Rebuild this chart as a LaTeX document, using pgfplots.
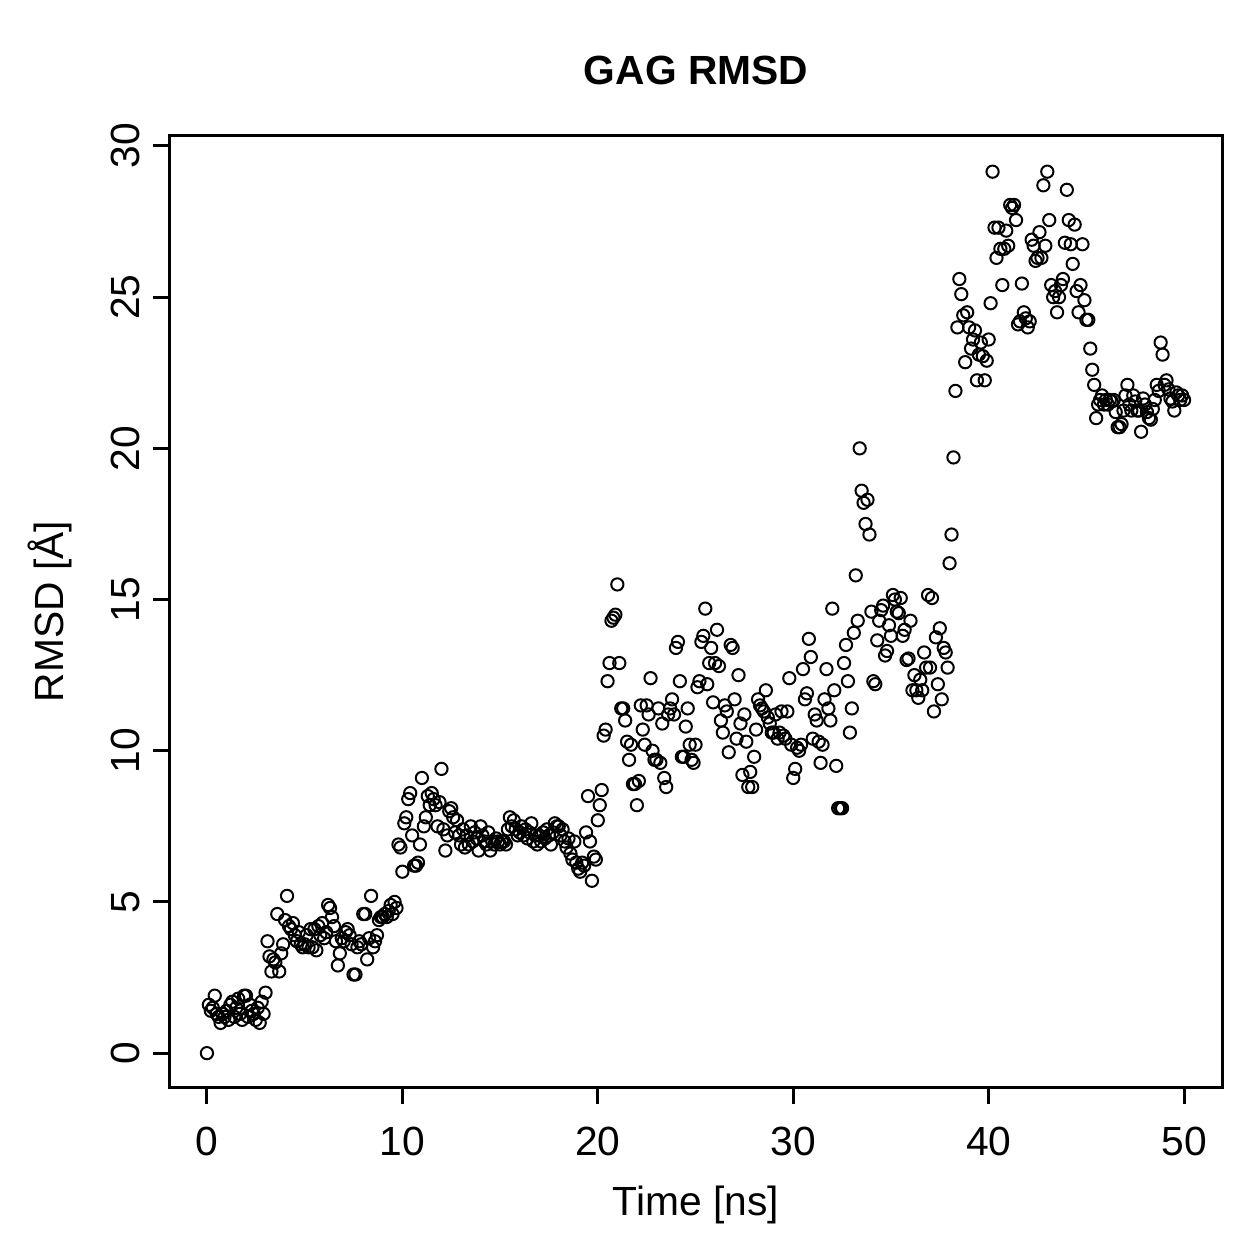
\documentclass[border=0pt]{standalone}
\usepackage{fontspec}
\setmainfont{Liberation Sans}
\usepackage{pgfplots}
\pgfplotsset{compat=1.18}
\newcommand{\fs}{\fontsize{16.3}{19}\selectfont}
\begin{document}
\begin{tikzpicture}
\begin{axis}[
  scale only axis,
  width=420.8pt, height=380.4pt,
  xmin=-1.89, xmax=51.94, ymin=-1.12, ymax=30.33,
  xtick={0,10,20,30,40,50}, ytick={0,5,10,15,20,25,30},
  xtick pos=bottom, ytick pos=left,
  tick align=outside, major tick length=6.8pt,
  axis line style={line width=1.2pt},
  every tick/.style={line width=1.2pt, black},
  /pgf/number format/assume math mode=true,
  xticklabel style={font=\fs, anchor=base, yshift=-20.4pt},
  yticklabel style={font=\fs, rotate=90, anchor=base, yshift=5.2pt},
  xlabel={Time [ns]}, ylabel={RMSD [Å]},
  xlabel style={font=\fs, at={(axis description cs:0.5,-0.1346)}, anchor=base},
  ylabel style={font=\fs, at={(axis description cs:-0.1008,0.5)}, anchor=base, rotate=0},
  title={GAG RMSD},
  title style={font=\fs\bfseries, at={(axis description cs:0.5,1.0389)}, anchor=base},
  clip=false,
]
\addplot[only marks, mark=o, mark size=2.45pt, mark options={line width=0.8pt, black}] coordinates {
(0,0)(0.1,1.6)(0.2,1.4)(0.3,1.5)(0.4,1.9)(0.5,1.3)(0.6,1.2)(0.7,1.0)(0.8,1.3)(0.9,1.2)
(1,1.4)(1.1,1.1)(1.2,1.6)(1.3,1.7)(1.4,1.2)(1.5,1.5)(1.6,1.8)(1.7,1.3)(1.8,1.1)(1.9,1.9)
(2,1.9)(2.1,1.2)(2.2,1.6)(2.3,1.4)(2.4,1.3)(2.5,1.1)(2.6,1.5)(2.7,1.0)(2.8,1.7)(2.9,1.3)
(3,2.0)(3.1,3.7)(3.2,3.2)(3.3,2.7)(3.4,3.1)(3.5,3.0)(3.6,4.6)(3.7,2.7)(3.8,3.3)(3.9,3.6)
(4,4.4)(4.1,5.2)(4.2,4.2)(4.3,4.1)(4.4,4.3)(4.5,3.9)(4.6,3.7)(4.7,4.0)(4.8,3.6)(4.9,3.5)
(5,3.6)(5.1,3.9)(5.2,3.5)(5.3,4.1)(5.4,3.5)(5.5,4.1)(5.6,3.4)(5.7,4.2)(5.8,3.9)(5.9,4.3)
(6,3.8)(6.1,4.0)(6.2,4.9)(6.3,4.8)(6.4,4.5)(6.5,4.2)(6.6,3.7)(6.7,2.9)(6.8,3.3)(6.9,3.8)
(7,3.7)(7.1,4.0)(7.2,4.1)(7.3,3.9)(7.4,3.6)(7.5,2.6)(7.6,2.6)(7.7,3.5)(7.8,3.7)(7.9,3.6)
(8,4.6)(8.1,4.6)(8.2,3.1)(8.3,3.8)(8.4,5.2)(8.5,3.5)(8.6,3.7)(8.7,3.9)(8.8,4.4)(8.9,4.5)
(9,4.5)(9.1,4.6)(9.2,4.5)(9.3,4.7)(9.4,4.9)(9.5,4.6)(9.6,5.0)(9.7,4.8)(9.8,6.9)(9.9,6.8)
(10,6.0)(10.1,7.6)(10.2,7.8)(10.3,8.4)(10.4,8.6)(10.5,7.2)(10.6,6.2)(10.7,6.2)(10.8,6.3)(10.9,6.9)
(11,9.1)(11.1,7.5)(11.2,7.8)(11.3,8.5)(11.4,8.2)(11.5,8.6)(11.6,8.4)(11.7,8.2)(11.8,7.5)(11.9,8.3)
(12,9.4)(12.1,7.4)(12.2,6.7)(12.3,7.2)(12.4,8.0)(12.5,8.1)(12.6,7.8)(12.7,7.3)(12.8,7.7)(12.9,7.2)
(13,6.9)(13.1,7.4)(13.2,6.8)(13.3,7.2)(13.4,6.9)(13.5,7.5)(13.6,7.0)(13.7,7.3)(13.8,7.1)(13.9,6.7)
(14,7.5)(14.1,7.2)(14.2,7.0)(14.3,6.9)(14.4,7.3)(14.5,6.7)(14.6,7.0)(14.7,6.9)(14.8,7.1)(14.9,7.0)
(15,6.9)(15.1,7.0)(15.2,7.0)(15.3,6.9)(15.4,7.4)(15.5,7.8)(15.6,7.5)(15.7,7.7)(15.8,7.4)(15.9,7.2)
(16,7.3)(16.1,7.5)(16.2,7.2)(16.3,7.4)(16.4,7.1)(16.5,7.3)(16.6,7.6)(16.7,7.0)(16.8,7.2)(16.9,6.9)
(17,7.2)(17.1,7.0)(17.2,7.3)(17.3,7.1)(17.4,7.4)(17.5,7.2)(17.6,6.9)(17.7,7.3)(17.8,7.6)(17.9,7.5)
(18,7.5)(18.1,7.2)(18.2,7.4)(18.3,7.0)(18.4,6.8)(18.5,7.1)(18.6,6.6)(18.7,6.4)(18.8,7.0)(18.9,6.3)
(19,6.1)(19.1,6.0)(19.2,6.3)(19.3,6.2)(19.4,7.3)(19.5,8.5)(19.6,7.0)(19.7,5.7)(19.8,6.5)(19.9,6.4)
(20,7.7)(20.1,8.2)(20.2,8.7)(20.3,10.5)(20.4,10.7)(20.5,12.3)(20.6,12.9)(20.7,14.3)(20.8,14.4)(20.9,14.5)
(21,15.5)(21.1,12.9)(21.2,11.4)(21.3,11.4)(21.4,11.0)(21.5,10.3)(21.6,9.7)(21.7,10.2)(21.8,8.9)(21.9,8.9)
(22,8.2)(22.1,9.0)(22.2,11.5)(22.3,10.7)(22.4,10.2)(22.5,11.5)(22.6,11.2)(22.7,12.4)(22.8,10.0)(22.9,9.7)
(23,9.7)(23.1,11.4)(23.2,9.6)(23.3,10.9)(23.4,9.1)(23.5,8.8)(23.6,11.2)(23.7,11.4)(23.8,11.7)(23.9,11.2)
(24,13.4)(24.1,13.6)(24.2,12.3)(24.3,9.8)(24.4,9.8)(24.5,10.8)(24.6,11.4)(24.7,10.2)(24.8,9.7)(24.9,9.6)
(25,10.2)(25.1,12.1)(25.2,12.3)(25.3,13.6)(25.4,13.8)(25.5,14.7)(25.6,12.2)(25.7,12.9)(25.8,13.4)(25.9,11.6)
(26,12.9)(26.1,14.0)(26.2,12.8)(26.3,11.0)(26.4,10.6)(26.5,11.5)(26.6,11.3)(26.7,9.95)(26.8,13.5)(26.9,13.4)
(27,11.7)(27.1,10.4)(27.2,12.5)(27.3,10.9)(27.4,9.2)(27.5,11.2)(27.6,10.3)(27.7,8.8)(27.8,9.3)(27.9,8.8)
(28,9.8)(28.1,10.7)(28.2,11.7)(28.3,11.5)(28.4,11.4)(28.5,11.3)(28.6,12.0)(28.7,11.1)(28.8,10.9)(28.9,10.6)
(29,10.6)(29.1,11.2)(29.2,10.4)(29.3,10.6)(29.4,11.3)(29.5,10.5)(29.6,10.4)(29.7,11.3)(29.8,12.4)(29.9,10.2)
(30,9.1)(30.1,9.4)(30.2,10.1)(30.3,10.0)(30.4,10.2)(30.5,12.7)(30.6,11.7)(30.7,11.9)(30.8,13.7)(30.9,13.1)
(31,10.4)(31.1,11.2)(31.2,11.0)(31.3,10.3)(31.4,9.6)(31.5,10.2)(31.6,11.7)(31.7,12.7)(31.8,11.4)(31.9,11.0)
(32,14.7)(32.1,12.0)(32.2,9.5)(32.3,8.1)(32.4,8.1)(32.5,8.1)(32.6,12.9)(32.7,13.5)(32.8,12.3)(32.9,10.6)
(33,11.4)(33.1,13.9)(33.2,15.8)(33.3,14.3)(33.4,20.0)(33.5,18.6)(33.6,18.2)(33.7,17.5)(33.8,18.3)(33.9,17.15)
(34,14.6)(34.1,12.3)(34.2,12.2)(34.3,13.65)(34.4,14.3)(34.5,14.65)(34.6,14.8)(34.7,13.15)(34.8,13.3)(34.9,14.15)
(35,13.8)(35.1,15.15)(35.2,15.0)(35.3,14.6)(35.4,14.55)(35.5,15.05)(35.6,13.8)(35.7,14.0)(35.8,13.0)(35.9,13.05)
(36,14.3)(36.1,12.0)(36.2,12.5)(36.3,12.0)(36.4,11.75)(36.5,12.35)(36.6,12.0)(36.7,13.25)(36.8,12.75)(36.9,15.15)
(37,12.75)(37.1,15.05)(37.2,11.3)(37.3,13.75)(37.4,12.2)(37.5,14.05)(37.6,11.7)(37.7,13.4)(37.8,13.25)(37.9,12.75)
(38,16.2)(38.1,17.15)(38.2,19.7)(38.3,21.9)(38.4,24.0)(38.5,25.6)(38.6,25.1)(38.7,24.4)(38.8,22.85)(38.9,24.5)
(39,24.0)(39.1,23.3)(39.2,23.6)(39.3,23.9)(39.4,22.25)(39.5,23.1)(39.6,23.5)(39.7,23.05)(39.8,22.25)(39.9,22.9)
(40,23.6)(40.1,24.8)(40.2,29.15)(40.3,27.3)(40.4,26.3)(40.5,27.3)(40.6,26.6)(40.7,25.4)(40.8,26.6)(40.9,27.2)
(41,26.7)(41.1,28.05)(41.2,27.95)(41.3,28.05)(41.4,27.55)(41.5,24.1)(41.6,24.2)(41.7,25.45)(41.8,24.5)(41.9,24.3)
(42,24.0)(42.1,24.2)(42.2,26.9)(42.3,26.7)(42.4,26.2)(42.5,26.3)(42.6,27.15)(42.7,26.3)(42.8,28.7)(42.9,26.7)
(43,29.15)(43.1,27.55)(43.2,25.4)(43.3,25.0)(43.4,25.2)(43.5,24.5)(43.6,25.0)(43.7,25.4)(43.8,25.6)(43.9,26.8)
(44,28.55)(44.1,27.55)(44.2,26.75)(44.3,26.1)(44.4,27.4)(44.5,25.2)(44.6,24.5)(44.7,25.4)(44.8,26.75)(44.9,24.9)
(45,24.25)(45.1,24.25)(45.2,23.3)(45.3,22.6)(45.4,22.1)(45.5,21.0)(45.6,21.45)(45.7,21.6)(45.8,21.75)(45.9,21.45)
(46,21.6)(46.1,21.45)(46.2,21.6)(46.3,21.55)(46.4,21.6)(46.5,21.2)(46.6,20.7)(46.7,20.7)(46.8,20.8)(46.9,21.25)
(47,21.75)(47.1,22.1)(47.2,21.45)(47.3,21.25)(47.4,21.75)(47.5,21.55)(47.6,21.25)(47.7,21.25)(47.8,20.55)(47.9,21.65)
(48,21.45)(48.1,21.2)(48.2,21.0)(48.3,20.95)(48.4,21.3)(48.5,21.6)(48.6,22.1)(48.7,21.9)(48.8,23.5)(48.9,23.1)
(49,22.1)(49.1,22.25)(49.2,21.95)(49.3,21.65)(49.4,21.55)(49.5,21.25)(49.6,21.85)(49.7,21.75)(49.8,21.6)(49.9,21.75)
(50,21.6)
};
\end{axis}
\path ([xshift=-68pt,yshift=-68.8pt]current axis.south west) rectangle ([xshift=14.8pt,yshift=54.4pt]current axis.north east);
\end{tikzpicture}
\end{document}
